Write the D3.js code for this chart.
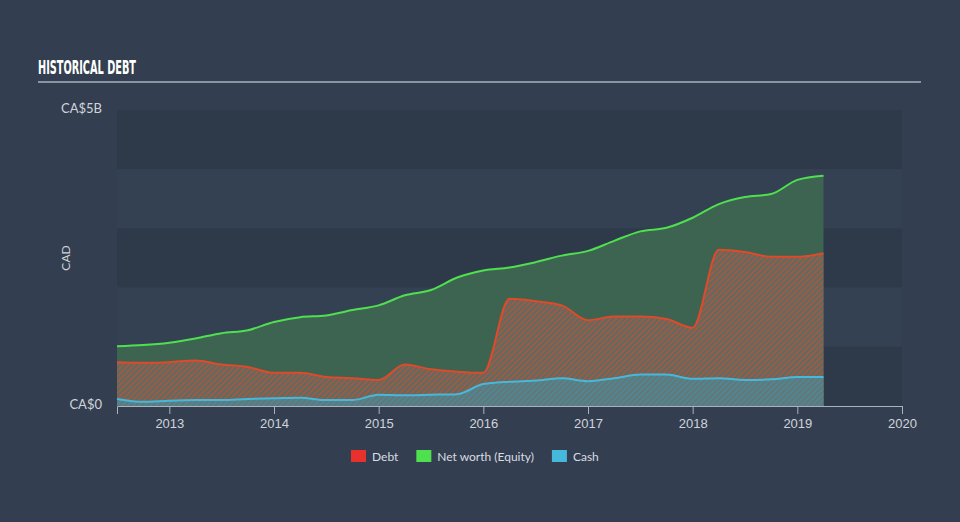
<!DOCTYPE html>
<html>
<head>
<meta charset="utf-8">
<script src="https://cdn.jsdelivr.net/npm/d3@7"></script>
<style>
  body { margin:0; background:#333f50; }
  svg { display:block; font-family:Lato, "Open Sans", sans-serif; }
</style>
</head>
<body>
<svg id="chart" width="960" height="522"></svg>
<script>
// quarter ends, as decimal years
const dates = [2012.5,2012.75,2013,2013.25,2013.5,2013.75,2014,2014.25,2014.5,2014.75,
  2015,2015.25,2015.5,2015.75,2016,2016.25,2016.5,2016.75,2017,2017.25,2017.5,2017.75,
  2018,2018.25,2018.5,2018.75,2019,2019.25];
// values in CA$ billions
const equity = [1.01,1.03,1.07,1.14,1.23,1.28,1.42,1.50,1.53,1.62,1.70,1.87,1.96,2.17,
  2.29,2.34,2.43,2.54,2.62,2.79,2.95,3.01,3.18,3.41,3.53,3.58,3.82,3.89];
const debt = [0.74,0.73,0.74,0.77,0.70,0.66,0.56,0.56,0.49,0.47,0.44,0.70,0.62,0.58,
  0.56,1.81,1.77,1.70,1.45,1.51,1.51,1.47,1.32,2.64,2.60,2.52,2.52,2.58];
const cash = [0.12,0.07,0.09,0.10,0.10,0.12,0.13,0.14,0.10,0.10,0.19,0.18,0.19,0.20,
  0.37,0.41,0.43,0.47,0.42,0.47,0.53,0.53,0.46,0.47,0.44,0.45,0.49,0.49];
const xTicks = [2013,2014,2015,2016,2017,2018,2019,2020];
const legendItems = [["Debt","#e8302c"],["Net worth (Equity)","#4fe04f"],["Cash","#46b8dc"]];

const svg = d3.select("#chart");
const plotL = 117, plotR = 902, plotT = 110, plotB = 406;

const x = d3.scaleLinear().domain([2012.5, 2020]).range([plotL, plotR]);
const y = d3.scaleLinear().domain([0, 5]).range([plotB, plotT]);

const defs = svg.append("defs");
function hatch(id, bg, fg){
  const p = defs.append("pattern").attr("id", id).attr("patternUnits","userSpaceOnUse")
    .attr("width", 4).attr("height", 4).attr("patternTransform","rotate(45)");
  p.append("rect").attr("width",4).attr("height",4).attr("fill",bg);
  p.append("rect").attr("width",2).attr("height",4).attr("fill",fg);
}
hatch("debtHatch", "#5c6b64", "#9c5b43");
hatch("cashHatch", "#667577", "#4d8892");

// title
svg.append("text").attr("x",38).attr("y",74).text("HISTORICAL DEBT")
  .attr("fill","#ffffff").attr("font-family","'Liberation Sans Narrow', 'DejaVu Sans Condensed', sans-serif")
  .attr("font-weight","bold").attr("font-size",20).attr("textLength",98).attr("lengthAdjust","spacingAndGlyphs");
svg.append("line").attr("x1",38).attr("x2",921).attr("y1",82).attr("y2",82)
  .attr("stroke","#aab2bc").attr("stroke-width",1.5);

// background bands
d3.range(5).forEach(i => {
  svg.append("rect").attr("x",plotL).attr("width",plotR-plotL)
    .attr("y",y(5-i)).attr("height",y(4-i)-y(5-i))
    .attr("fill", i % 2 === 0 ? "#2e3a4a" : "#344152");
});

const rows = dates.map((d,i) => ({d, e:equity[i], b:debt[i], c:cash[i]}));
const curve = d3.curveMonotoneX;
const area = key => d3.area().x(r => x(r.d)).y0(y(0)).y1(r => y(r[key])).curve(curve);
const line = key => d3.line().x(r => x(r.d)).y(r => y(r[key])).curve(curve);

svg.append("path").datum(rows).attr("d", area("e")).attr("fill","#3c6450");
svg.append("path").datum(rows).attr("d", area("b")).attr("fill","url(#debtHatch)");
svg.append("path").datum(rows).attr("d", area("c")).attr("fill","url(#cashHatch)");

svg.append("path").datum(rows).attr("d", line("e")).attr("fill","none").attr("stroke","#4fe04f").attr("stroke-width",2);
svg.append("path").datum(rows).attr("d", line("b")).attr("fill","none").attr("stroke","#df4a2a").attr("stroke-width",2);
svg.append("path").datum(rows).attr("d", line("c")).attr("fill","none").attr("stroke","#46b8dc").attr("stroke-width",2);

// x axis
const xAxis = svg.append("g").attr("transform",`translate(0,${plotB})`)
  .call(d3.axisBottom(x).tickValues(xTicks).tickFormat(d3.format("d")).tickSizeOuter(0).tickSize(8));
xAxis.select(".domain").attr("stroke","#aab2bc");
xAxis.selectAll(".tick line").attr("stroke","#aab2bc");
xAxis.selectAll(".tick text").attr("fill","#d0d4da").attr("font-size",13).attr("dy","0.85em");

// y labels
const yLabels = [[0,"CA$0"],[5,"CA$5B"]];
svg.selectAll(".ylab").data(yLabels).join("text")
  .attr("x",102).attr("y", d => y(d[0]) + 3).attr("text-anchor","end")
  .attr("fill","#d0d4da").attr("font-size",13).text(d => d[1]);
svg.append("text").attr("transform",`translate(70,${(plotT+plotB)/2}) rotate(-90)`)
  .attr("text-anchor","middle").attr("fill","#d0d4da").attr("font-size",12).text("CAD");

// legend
const lg = svg.append("g").attr("transform","translate(351,456)");
let lx = 0;
legendItems.forEach(([name,col]) => {
  lg.append("rect").attr("x",lx).attr("y",-6).attr("width",15).attr("height",12).attr("fill",col);
  const t = lg.append("text").attr("x",lx+21).attr("y",4.5).attr("fill","#d8dce2").attr("font-size",12).text(name);
  lx += 21 + t.node().getComputedTextLength() + 18;
});
</script>
</body>
</html>
